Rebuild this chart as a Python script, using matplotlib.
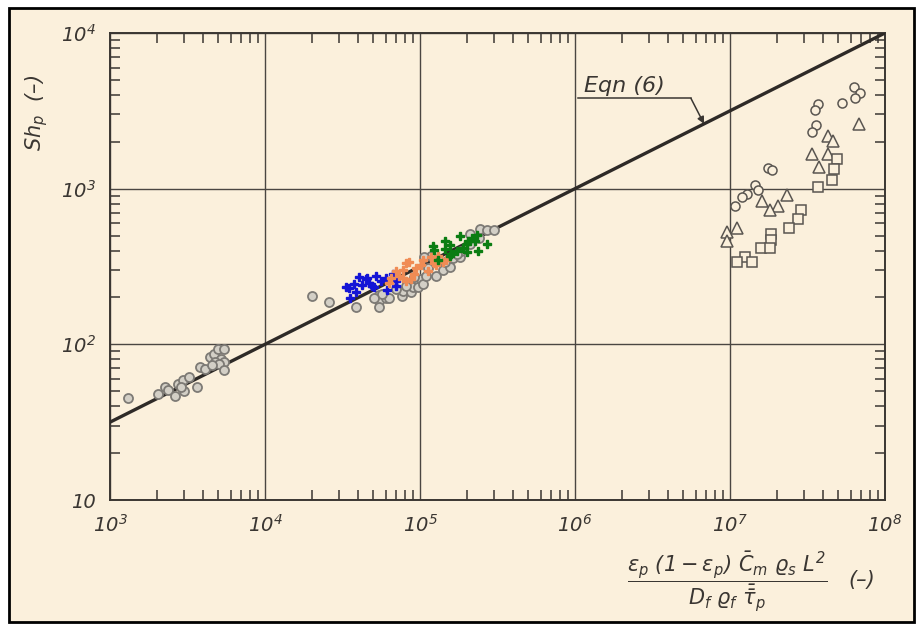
import numpy as np
import matplotlib
matplotlib.use("Agg")
import matplotlib.pyplot as plt
from matplotlib.patches import Rectangle
from matplotlib.ticker import LogLocator, FixedLocator, FixedFormatter

# ---- data ----
# gray circles, low range (1e3 .. 1e4)
low_x = [1.30e3, 2.05e3, 2.27e3, 2.37e3, 2.62e3, 2.74e3, 2.94e3, 3.02e3, 2.86e3, 3.25e3,
         3.65e3, 3.80e3, 4.10e3, 4.40e3, 4.67e3, 5.00e3, 5.40e3, 5.24e3, 5.46e3, 4.73e3,
         5.08e3, 5.46e3, 4.53e3]
low_y = [45.5, 48.3, 53.0, 50.6, 46.9, 55.3, 58.9, 49.8, 53.0, 61.5,
         53.0, 71.6, 69.5, 83.4, 87.3, 92.7, 92.7, 80.9, 77.3, 77.3,
         75.0, 68.5, 73.8]

# gray circles, mid range (1e4 .. 1e6)
mid_x = [2.02e4, 2.60e4, 3.84e4, 5.42e4, 5.42e4, 5.42e4, 6.01e4, 6.29e4, 5.66e4, 7.64e4,
         7.76e4, 8.74e4, 9.01e4, 9.71e4, 1.02e5, 1.04e5, 1.09e5, 1.13e5, 1.27e5, 1.41e5,
         1.57e5, 1.44e5, 1.64e5, 1.80e5, 1.85e5, 2.09e5, 2.09e5, 2.39e5, 2.43e5, 2.70e5,
         3.00e5, 1.72e5, 1.18e5, 1.06e5, 9.14e4, 8.11e4, 6.98e4, 5.02e4]
mid_y = [203, 186, 173, 206, 189, 173, 197, 197, 211, 203,
         221, 217, 233, 233, 261, 244, 273, 310, 273, 301,
         314, 337, 357, 362, 399, 515, 441, 480, 553, 545,
         545, 383, 372, 362, 269, 237, 227, 197]

# coloured series
blue_x = [3.31e4, 3.47e4, 3.74e4, 4.03e4, 4.25e4, 4.46e4, 4.69e4, 4.93e4, 5.18e4, 5.58e4,
          6.01e4, 6.65e4, 6.98e4, 6.98e4, 3.84e4, 3.56e4, 6.17e4, 5.05e4, 4.57e4]
blue_y = [235, 229, 244, 270, 240, 261, 249, 236, 274, 255,
          268, 281, 255, 238, 217, 197, 222, 232, 268]

orange_x = [8.11e4, 7.72e4, 8.52e4, 6.98e4, 7.34e4, 8.11e4, 8.74e4, 9.19e4, 9.42e4, 1.01e5,
            1.04e5, 1.12e5, 1.18e5, 1.24e5, 1.30e5, 1.27e5, 1.41e5, 1.48e5, 6.32e4, 6.48e4,
            7.72e4]
orange_y = [331, 301, 338, 298, 274, 255, 261, 281, 308, 323,
            347, 294, 363, 331, 372, 323, 338, 347, 249, 268,
            268]

green_x = [1.21e5, 1.24e5, 1.30e5, 1.44e5, 1.44e5, 1.55e5, 1.59e5, 1.72e5, 1.81e5, 1.90e5,
           2.00e5, 2.05e5, 2.15e5, 2.26e5, 2.32e5, 2.38e5, 2.70e5, 2.00e5, 1.55e5]
green_y = [428, 403, 350, 460, 409, 435, 381, 399, 493, 418,
           439, 460, 482, 460, 506, 399, 443, 389, 372]

# high range (1e7 .. 1e8): circles, triangles, squares
circ_x = [6.28e7, 6.93e7, 6.44e7, 5.25e7, 3.67e7, 3.55e7, 3.58e7, 3.38e7, 1.75e7, 1.87e7,
          1.44e7, 1.52e7, 1.28e7, 1.19e7, 1.08e7]
circ_y = [4480, 4110, 3810, 3530, 3480, 3200, 2570, 2320, 1350, 1320,
          1050, 986, 918, 889, 772]

tri_x = [6.75e7, 4.26e7, 4.62e7, 3.38e7, 4.26e7, 3.76e7, 2.34e7, 1.62e7, 2.04e7, 1.81e7,
         1.11e7, 9.55e6, 9.55e6]
tri_y = [2610, 2190, 2010, 1670, 1680, 1370, 910, 828, 772, 730,
         555, 529, 460]

sq_x = [4.92e7, 4.69e7, 4.58e7, 3.67e7, 2.88e7, 2.74e7, 2.42e7, 1.83e7, 1.85e7, 1.58e7,
        1.81e7, 1.25e7, 1.11e7, 1.38e7]
sq_y = [1560, 1330, 1130, 1020, 726, 640, 563, 513, 471, 418,
        418, 363, 338, 336]

# Eqn (6): Sh_p = X^0.5
eqn_x = np.array([1e3, 1e8])
eqn_y = eqn_x ** 0.5
arrow_x = 6.8e6

x_ticks = [1e3, 1e4, 1e5, 1e6, 1e7, 1e8]
x_labels = ['10$^{3}$', '10$^{4}$', '10$^{5}$', '10$^{6}$', '10$^{7}$', '10$^{8}$']
y_ticks = [1e1, 1e2, 1e3, 1e4]
y_labels = ['10', '10$^{2}$', '10$^{3}$', '10$^{4}$']

BG = '#fbf0dc'
INK = '#3a3632'

plt.rcParams['mathtext.fontset'] = 'custom'
plt.rcParams['mathtext.rm'] = 'DejaVu Sans:italic'
plt.rcParams['mathtext.it'] = 'DejaVu Sans:italic'
plt.rcParams['font.style'] = 'italic'

fig = plt.figure(figsize=(9.19, 6.26), dpi=100, facecolor='white')
fig.patches.append(Rectangle((9 / 919, 4 / 626), 905 / 919, 614 / 626, transform=fig.transFigure,
                             facecolor=BG, edgecolor='black', linewidth=2, zorder=-5))

ax = fig.add_axes([110 / 919, 1 - 500 / 626, 775 / 919, 467 / 626])
ax.set_facecolor('none')
ax.set_xscale('log')
ax.set_yscale('log')
ax.set_xlim(1e3, 1e8)
ax.set_ylim(10, 1e4)

for s in ax.spines.values():
    s.set_color(INK)
    s.set_linewidth(1.4)

ax.xaxis.set_major_locator(FixedLocator(x_ticks))
ax.xaxis.set_major_formatter(FixedFormatter(x_labels))
ax.yaxis.set_major_locator(FixedLocator(y_ticks))
ax.yaxis.set_major_formatter(FixedFormatter(y_labels))
ax.xaxis.set_minor_locator(LogLocator(base=10, subs=np.arange(2, 10)))
ax.yaxis.set_minor_locator(LogLocator(base=10, subs=np.arange(2, 10)))
ax.xaxis.set_minor_formatter(plt.NullFormatter())
ax.yaxis.set_minor_formatter(plt.NullFormatter())
ax.tick_params(which='major', length=0, labelsize=14, labelcolor=INK, pad=10)
ax.tick_params(which='minor', direction='in', length=7, width=1.1, color=INK,
               top=True, right=True)
ax.grid(True, which='major', color='#4a4642', linewidth=1.0)

# correlation line
ax.plot(eqn_x, eqn_y, color='#2e2a27', linewidth=2.4, zorder=3)

gray = dict(linestyle='none', marker='o', ms=6.5, mfc='#d3cfc6', mec='#7d7a75', mew=1.3, zorder=4)
ax.plot(low_x, low_y, **gray)
ax.plot(mid_x, mid_y, **gray)

ax.plot(blue_x, blue_y, linestyle='none', marker='P', ms=5.5, color='#1414d6', mec='#1414d6', zorder=5)
ax.plot(orange_x, orange_y, linestyle='none', marker='P', ms=5.5, color='#f08c55', mec='#f08c55', zorder=5)
ax.plot(green_x, green_y, linestyle='none', marker='P', ms=5.5, color='#0b7d12', mec='#0b7d12', zorder=5)

open_kw = dict(linestyle='none', mfc=BG, mec='#5a5651', mew=1.1, zorder=4)
ax.plot(circ_x, circ_y, marker='o', ms=6.5, **open_kw)
ax.plot(tri_x, tri_y, marker='^', ms=8, **open_kw)
ax.plot(sq_x, sq_y, marker='s', ms=6.5, **open_kw)

# Eqn (6) label with underline and leader
ax.text(1.15e6, 3.95e3, 'Eqn (6)', fontsize=16, style='italic', color=INK, ha='left', va='bottom')
ax.plot([1.04e6, 5.6e6], [3.8e3, 3.8e3], color=INK, linewidth=1.1)
ax.annotate('', xy=(arrow_x, arrow_x ** 0.5), xytext=(5.6e6, 3.8e3),
            arrowprops=dict(arrowstyle='-|>', color=INK, lw=1.1, mutation_scale=10,
                            shrinkA=0, shrinkB=0))

# axis titles
ax.text(-0.095, 0.83, r'$Sh_p$  (–)', transform=ax.transAxes, rotation=90,
        ha='center', va='center', fontsize=15, color=INK)
fig.text(727 / 919, 1 - 582 / 626,
         r'$\dfrac{\varepsilon_p\ (1-\varepsilon_p)\ \bar{C}_m\ \varrho_s\ L^2}{D_f\ \varrho_f\ \bar{\bar{\tau}}_p}$',
         ha='center', va='center', fontsize=15, color=INK)
fig.text(862 / 919, 1 - 580 / 626, '(–)', ha='center', va='center', fontsize=15, color=INK)

fig.savefig('out.png', dpi=100, facecolor=fig.get_facecolor())
